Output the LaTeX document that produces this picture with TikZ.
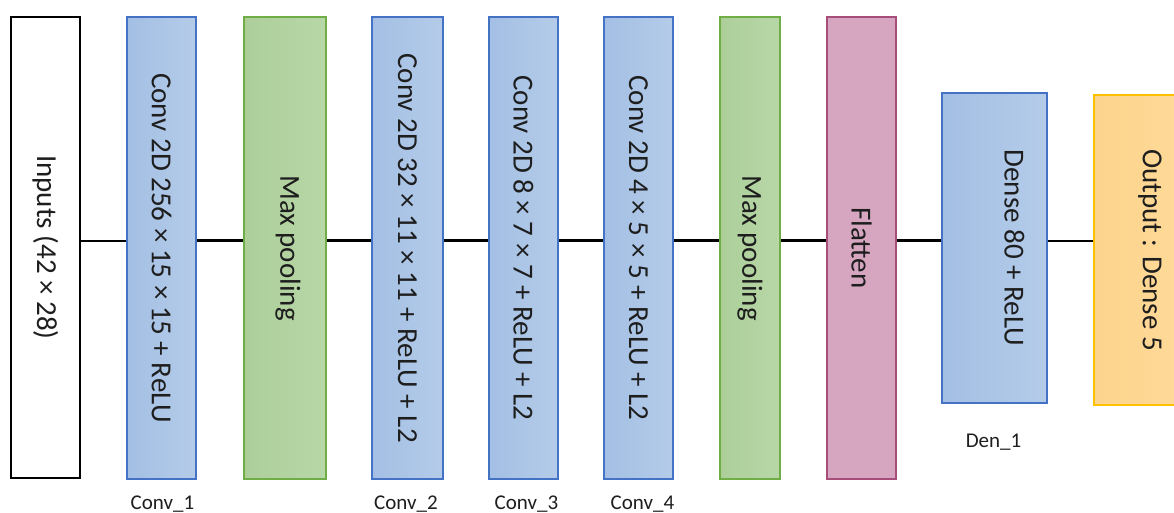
\documentclass[tikz,border=0pt]{standalone}
\usepackage{fontspec}
\setmainfont{Carlito}
\definecolor{blueline}{HTML}{4472C4}
\definecolor{blueL}{HTML}{A4BFE4}
\definecolor{blueR}{HTML}{B4CCE9}
\definecolor{greenline}{HTML}{70AD47}
\definecolor{greenL}{HTML}{ACCF9A}
\definecolor{greenR}{HTML}{B8D7A7}
\definecolor{pinkline}{HTML}{A64D79}
\definecolor{pinkfill}{HTML}{D6A6C0}
\definecolor{yellowline}{HTML}{FFC000}
\definecolor{yellowL}{HTML}{FDD48C}
\definecolor{yellowR}{HTML}{FEDB9B}
\definecolor{txt}{HTML}{1E1E1E}
\tikzset{
  box/.style={rectangle, inner sep=0pt, line width=1.8pt},
  inbox/.style={box, draw=black, fill=white, line width=2.2pt},
  convbox/.style={box, draw=blueline, left color=blueL, right color=blueR},
  poolbox/.style={box, draw=greenline, left color=greenL, right color=greenR},
  flatbox/.style={box, draw=pinkline, fill=pinkfill},
  outbox/.style={box, draw=yellowline, left color=yellowL, right color=yellowR},
  vlab/.style={rotate=-90, inner sep=0pt, font=\fontsize{29}{34}\selectfont, text=txt},
  tag/.style={inner sep=0pt, font=\fontsize{21}{25}\selectfont, text=txt},
  thin link/.style={line width=2pt, draw=black},
  thick link/.style={line width=3.6pt, draw=black},
}
\begin{document}
\begin{tikzpicture}[x=1pt, y=-1pt]
  \clip (0,0) rectangle (1174,513);
  \fill[white] (0,0) rectangle (1174,513);

  % horizontal level of the data flow
  \coordinate (axis) at (0,240.5);

  % layer blocks
  \node[inbox,   minimum width=69pt,  minimum height=461pt] (in)  at (45.5,247.5) {};
  \node[convbox, minimum width=69pt,  minimum height=462pt] (c1)  at (161.5,248) {};
  \node[poolbox, minimum width=82pt,  minimum height=462pt] (mp1) at (285,248) {};
  \node[convbox, minimum width=71pt,  minimum height=462pt] (c2)  at (407.5,248) {};
  \node[convbox, minimum width=69pt,  minimum height=462pt] (c3)  at (523.5,248) {};
  \node[convbox, minimum width=69pt,  minimum height=462pt] (c4)  at (638.5,248) {};
  \node[poolbox, minimum width=60pt,  minimum height=462pt] (mp2) at (750,248) {};
  \node[flatbox, minimum width=69pt,  minimum height=462pt] (fl)  at (861.5,248) {};
  \node[convbox, minimum width=105pt, minimum height=310pt] (den) at (994.5,248) {};
  \node[outbox,  minimum width=112pt, minimum height=310pt] (out) at (1150,250) {};

  % connectors
  \draw[thin link]  (in.east |- axis)  -- (c1.west |- axis);
  \draw[thick link] (c1.east |- axis)  -- (mp1.west |- axis);
  \draw[thick link] (mp1.east |- axis) -- (c2.west |- axis);
  \draw[thick link] (c2.east |- axis)  -- (c3.west |- axis);
  \draw[thick link] (c3.east |- axis)  -- (c4.west |- axis);
  \draw[thick link] (c4.east |- axis)  -- (mp2.west |- axis);
  \draw[thick link] (mp2.east |- axis) -- (fl.west |- axis);
  \draw[thick link] (fl.east |- axis)  -- (den.west |- axis);
  \draw[thin link]  (den.east |- axis) -- (out.west |- axis);

  % block captions
  \node[vlab] (tin)  at (in.center)  {Inputs (42 × 28)};
  \node[vlab] (tc1)  at (c1.center)  {Conv 2D 256 × 15 × 15 + ReLU};
  \node[vlab] (tmp1) at ([xshift=3pt]mp1.center) {Max pooling};
  \node[vlab] (tc2)  at (c2.center)  {Conv 2D 32 × 11 × 11 + ReLU + L2};
  \node[vlab] (tc3)  at (c3.center)  {Conv 2D 8 × 7 × 7 + ReLU + L2};
  \node[vlab] (tc4)  at (c4.center)  {Conv 2D 4 × 5 × 5 + ReLU + L2};
  \node[vlab] (tmp2) at (mp2.center) {Max pooling};
  \node[vlab] (tfl)  at (fl.center)  {Flatten};
  \node[vlab] (tden) at ([xshift=20pt]den.center) {Dense 80 + ReLU};
  \node[vlab] (tout) at (out.center) {Output : Dense 5};

  % layer names
  \node[tag] (n1) at (162.5,504) {Conv\_1};
  \node[tag] (n2) at (406,504)   {Conv\_2};
  \node[tag] (n3) at (526.5,504) {Conv\_3};
  \node[tag] (n4) at (642.5,504) {Conv\_4};
  \node[tag] (n5) at (993.5,442) {Den\_1};
\end{tikzpicture}
\end{document}
